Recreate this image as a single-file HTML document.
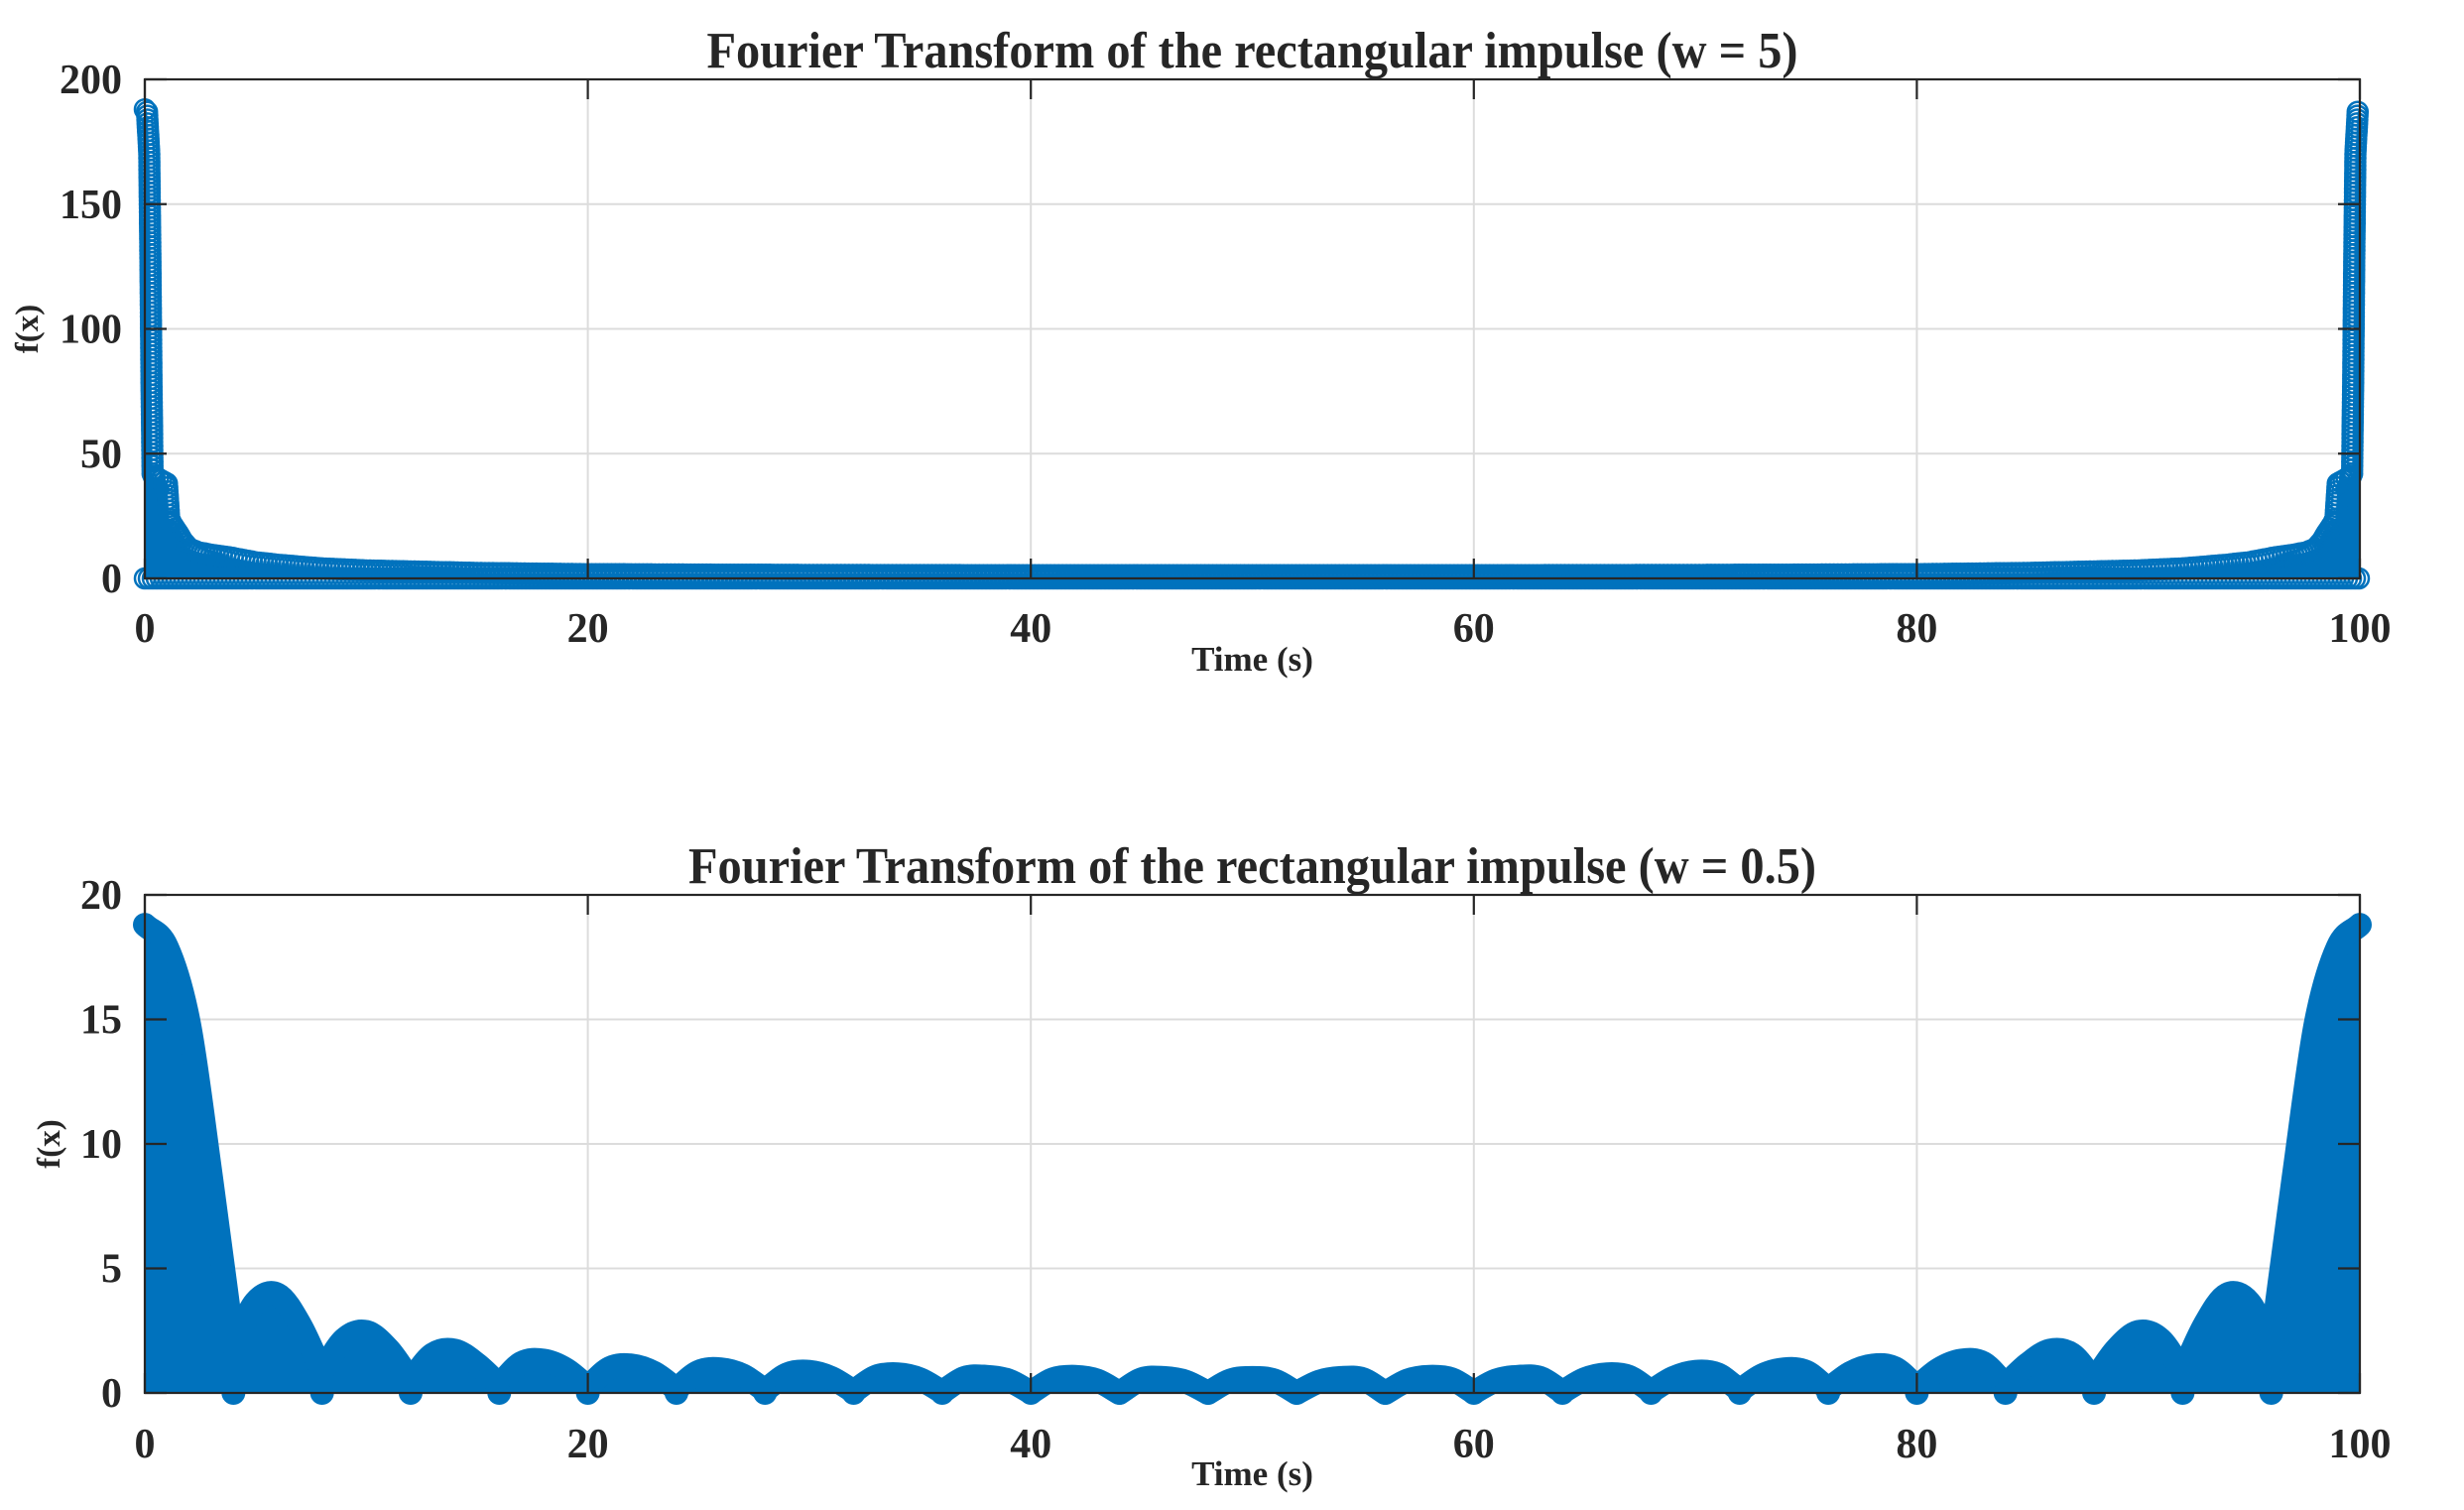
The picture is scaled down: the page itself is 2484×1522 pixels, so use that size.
<!DOCTYPE html>
<html><head><meta charset="utf-8"><style>
html,body{margin:0;padding:0;background:#fff}
svg{display:block}
text{font-family:"Liberation Serif",serif;font-weight:bold;fill:#262626}
</style></head><body>
<svg id="chart" width="2484" height="1522" viewBox="0 0 2484 1522" xmlns="http://www.w3.org/2000/svg">
<rect width="2484" height="1522" fill="#fff"/>
<g id="top"></g>
<g id="bot"></g>
</svg>
<script>
// ---- data ----
const xTicks = [0, 20, 40, 60, 80, 100];
const topYTicks = [0, 50, 100, 150, 200];
const botYTicks = [0, 5, 10, 15, 20];
const topTitle = "Fourier Transform of the rectangular impulse (w = 5)";
const botTitle = "Fourier Transform of the rectangular impulse (w = 0.5)";
// top: envelope of stem magnitudes (w = 5)
const topX = [0,0.1,0.2,0.25,0.3,0.35,0.45,0.6,1.0,1.1,1.2,1.5,1.7,2.0,2.4,3.0,3.8,5,6,8,10,12,15,20,30,40,50,
  60,70,80,85,88,90,92,94,95,96.2,97,97.6,98,98.3,98.5,98.8,98.9,99,99.4,99.55,99.65,99.7,99.75,99.8,99.9,100];
const topY = [188,187,170,130,80,42,40,40,38,24,22,18,15,12,10.5,9.5,8.5,6.5,5.5,4,3.2,2.8,2.2,1.7,1.4,1.3,1.3,
  1.3,1.4,1.7,2.2,2.8,3.2,4,5.5,6.5,8.5,9.5,10.5,12,15,18,22,24,38,40,40,42,80,130,170,187,188];
// bottom: stem magnitudes (w = 0.5) at t = 0..100
const botY = [18.8,17.9,14.8,8.6,1.9, 3.65,3.95,2.75,0.85, 2.15,2.45,1.75,0.5, 1.55,1.7,1.15,0.32,
  1.2,1.3,0.95,0.23, 1.0,1.1,0.8,0.15, 0.85,0.95,0.7,0.1, 0.75,0.85,0.6,0.06, 0.65,0.75,0.55,0.04,
  0.6,0.65,0.5,0.02, 0.55,0.65,0.5,0.0, 0.55,0.6,0.45,0.0, 0.5,0.6,0.5,0.0,
  0.45,0.6,0.55,0.0, 0.5,0.65,0.55,0.02, 0.5,0.65,0.6,0.04, 0.55,0.75,0.65,0.06, 0.6,0.85,0.75,0.1,
  0.7,0.95,0.85,0.15, 0.8,1.1,1.0,0.23, 0.95,1.3,1.2,0.32, 1.15,1.7,1.55,0.5, 1.75,2.45,2.15,0.85,
  2.75,3.95,3.65,1.9, 8.6,14.8,17.9,18.8];
const botZeroT = [4,8,12,16,20,24,28,32,36,40,44,48,52,56,60,64,68,72,76,80,84,88,92,96];

const NS = "http://www.w3.org/2000/svg";
const BLUE = "#0072BD";
function mk(parent, tag, attrs){const e=document.createElementNS(NS,tag);for(const k in attrs)e.setAttribute(k,attrs[k]);parent.appendChild(e);return e;}

const L = 146, R = 2379;
const xs = t => L + (t/100)*(R-L);

function axes(g, top, bottom, ymax, yTicks, name){
  const ys = v => bottom - (v/ymax)*(bottom-top);
  const grid = mk(g,'g',{});
  
  
  xTicks.forEach(t=>{ if(t>0&&t<100){ const l=mk(grid,'line',{x1:xs(t),x2:xs(t),y1:top,y2:bottom,stroke:'#dcdcdc','stroke-width':2});
     }});
  yTicks.forEach(v=>{ if(v>0&&v<ymax){ const l=mk(grid,'line',{x1:L,x2:R,y1:ys(v),y2:ys(v),stroke:'#dcdcdc','stroke-width':2});
     }});
  return ys;
}
function frame(g, top, bottom, yTicks, title, titleLen, name, ys, xlabY, tickLabY, titleY, ylabX){
  const ax = mk(g,'g',{stroke:'#262626','stroke-width':2.2,fill:'none'});
  
  
  mk(ax,'rect',{x:L,y:top,width:R-L,height:bottom-top});
  xTicks.forEach(t=>{ mk(ax,'line',{x1:xs(t),x2:xs(t),y1:bottom,y2:bottom-20}); mk(ax,'line',{x1:xs(t),x2:xs(t),y1:top,y2:top+20}); });
  yTicks.forEach(v=>{ mk(ax,'line',{x1:L,x2:L+22,y1:ys(v),y2:ys(v)}); mk(ax,'line',{x1:R,x2:R-22,y1:ys(v),y2:ys(v)}); });
  xTicks.forEach(t=>{ const e=mk(g,'text',{x:xs(t),y:tickLabY,'text-anchor':'middle','font-size':42}); e.textContent=t;
      });
  yTicks.forEach(v=>{ const e=mk(g,'text',{x:123,y:ys(v)+14,'text-anchor':'end','font-size':42}); e.textContent=v;
      });
  const tt=mk(g,'text',{x:(L+R)/2,y:titleY,'text-anchor':'middle','font-size':52,textLength:titleLen,lengthAdjust:'spacingAndGlyphs',fill:'#000'});
  tt.textContent=title;  
  const xl=mk(g,'text',{x:(L+R)/2,y:xlabY,'text-anchor':'middle','font-size':35}); xl.textContent='Time (s)';
   
  const cy=(top+bottom)/2;
  const yl=mk(g,'text',{x:ylabX,y:cy,'text-anchor':'middle','font-size':33,transform:`rotate(-90 ${ylabX} ${cy})`}); yl.textContent='f(x)';
   
}

// ---- top chart ----
(function(){
  const g=document.getElementById('top'); const top=80, bottom=583, ymax=200;
  const ys = axes(g, top, bottom, ymax, topYTicks, 'top');
  const pts = topX.map((t,i)=>[xs(t), ys(topY[i])]);
  let d = `M${xs(topX[0])},${bottom} ` + pts.map(p=>`L${p[0].toFixed(1)},${p[1].toFixed(1)}`).join(' ') + ` L${xs(topX[topX.length-1])},${bottom} Z`;
  const area = mk(g,'path',{d:d,fill:BLUE});
  
  
  const mg = mk(g,'g',{fill:'none',stroke:BLUE,'stroke-width':2.5});
  
  
  for(let i=0;i<pts.length-1;i++){
    const [x1,y1]=pts[i],[x2,y2]=pts[i+1]; const len=Math.hypot(x2-x1,y2-y1); const n=Math.max(1,Math.ceil(len/4));
    for(let k=0;k<n;k++){ const f=k/n; mk(mg,'circle',{cx:(x1+(x2-x1)*f).toFixed(1),cy:(y1+(y2-y1)*f).toFixed(1),r:10}); }
  }
  for(let x=L;x<=R;x+=4){ mk(mg,'circle',{cx:x,cy:bottom,r:10}); }
  frame(g, top, bottom, topYTicks, topTitle, 1100, 'top', ys, 676, 647, 68, 38);
})();

// ---- bottom chart ----
(function(){
  const g=document.getElementById('bot'); const top=902, bottom=1404, ymax=20;
  const ys = axes(g, top, bottom, ymax, botYTicks, 'bottom');
  const n=botY.length; const dt=100/(n-1);
  const isMin = i => i>0 && i<n-1 && botY[i]<botY[i-1] && botY[i]<botY[i+1];
  function slopeL(i){ if(i===0) return botY[1]-botY[0]; if(i===n-1) return botY[i]-botY[i-1]; if(isMin(i)) return botY[i]-botY[i-1]; return (botY[i+1]-botY[i-1])/2; }
  function slopeR(i){ if(i===0) return botY[1]-botY[0]; if(i===n-1) return botY[i]-botY[i-1]; if(isMin(i)) return botY[i+1]-botY[i]; return (botY[i+1]-botY[i-1])/2; }
  let curve=`M${xs(0)},${ys(botY[0]).toFixed(1)}`;
  for(let i=0;i<n-1;i++){
    const t0=i*dt,t1=(i+1)*dt;
    const c1x=xs(t0+dt/3), c1y=ys(botY[i]+slopeR(i)/3);
    const c2x=xs(t1-dt/3), c2y=ys(botY[i+1]-slopeL(i+1)/3);
    curve+=` C${c1x.toFixed(1)},${c1y.toFixed(1)} ${c2x.toFixed(1)},${c2y.toFixed(1)} ${xs(t1).toFixed(1)},${ys(botY[i+1]).toFixed(1)}`;
  }
  const area=mk(g,'path',{d:curve+` L${xs(100)},${bottom} L${xs(0)},${bottom} Z`,fill:BLUE});
  
  
  const env=mk(g,'path',{d:curve,fill:'none',stroke:BLUE,'stroke-width':24,'stroke-linejoin':'round','stroke-linecap':'round'});
  
  
  botZeroT.forEach(t=>{ const c=mk(g,'circle',{cx:xs(t),cy:bottom,r:12,fill:BLUE});
      });
  frame(g, top, bottom, botYTicks, botTitle, 1137, 'bottom', ys, 1497, 1469, 890, 60);
})();
</script>
</body></html>
